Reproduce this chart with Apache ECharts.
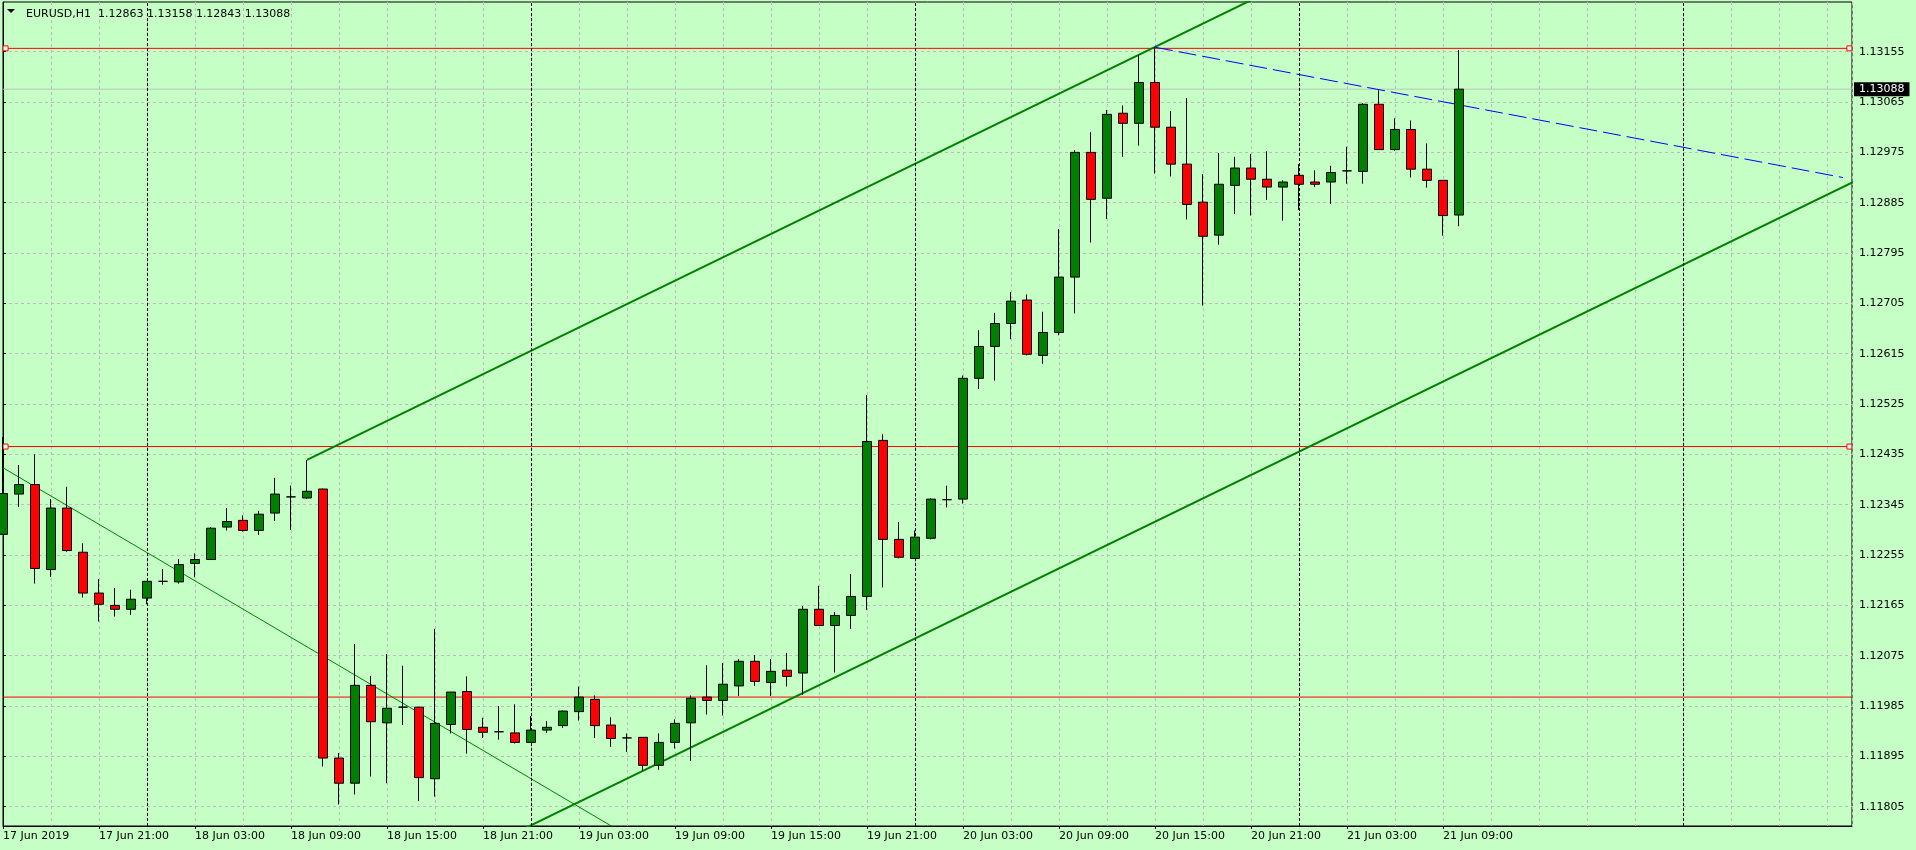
<!DOCTYPE html>
<html>
<head>
<meta charset="utf-8">
<title>EURUSD,H1</title>
<script src="https://cdn.jsdelivr.net/npm/echarts@6/dist/echarts.min.js"></script>
<style>
  html, body { margin: 0; padding: 0; background: #c5ffc5; }
  #main { width: 1916px; height: 850px; }
</style>
</head>
<body>
<div id="main"></div>
<script>
// one candle per hour, index 0 = 17 Jun 2019 15:00
const opens = [
  1.12292, 1.12364, 1.12381, 1.12229, 1.12339, 1.12260, 1.12187, 1.12165, 1.12158, 1.12178,
  1.12208, 1.12207, 1.12240, 1.12247, 1.12305, 1.12317, 1.12299, 1.12330, 1.12359, 1.12357,
  1.12373, 1.11892, 1.11847, 1.12022, 1.11955, 1.11983, 1.11983, 1.11855, 1.11952, 1.12011,
  1.11947, 1.11939, 1.11937, 1.11920, 1.11942, 1.11950, 1.11975, 1.11997, 1.11951, 1.11928,
  1.11929, 1.11879, 1.11920, 1.11955, 1.12001, 1.11995, 1.12021, 1.12065, 1.12027, 1.12049,
  1.12044, 1.12158, 1.12129, 1.12147, 1.12181, 1.12460, 1.12283, 1.12249, 1.12285, 1.12354,
  1.12355, 1.12571, 1.12628, 1.12669, 1.12711, 1.12612, 1.12653, 1.12752, 1.12975, 1.12893,
  1.13045, 1.13027, 1.13100, 1.13020, 1.12954, 1.12886, 1.12827, 1.12916, 1.12947, 1.12927,
  1.12913, 1.12934, 1.12922, 1.12922, 1.12942, 1.12941, 1.13061, 1.12980, 1.13016, 1.12945,
  1.12925, 1.12863
]
const highs = [
  1.12466, 1.12416, 1.12435, 1.12355, 1.12377, 1.12276, 1.12212, 1.12196, 1.12193, 1.12208,
  1.12230, 1.12248, 1.12258, 1.12305, 1.12339, 1.12326, 1.12334, 1.12393, 1.12379, 1.12425,
  1.12374, 1.11901, 1.12096, 1.12039, 1.12078, 1.12057, 1.11983, 1.12123, 1.12010, 1.12038,
  1.11964, 1.11985, 1.11988, 1.11967, 1.11958, 1.11977, 1.12020, 1.12004, 1.11965, 1.11936,
  1.11929, 1.11936, 1.11961, 1.12004, 1.12058, 1.12062, 1.12069, 1.12076, 1.12069, 1.12080,
  1.12164, 1.12200, 1.12153, 1.12221, 1.12541, 1.12471, 1.12314, 1.12299, 1.12357, 1.12379,
  1.12576, 1.12657, 1.12688, 1.12725, 1.12721, 1.12690, 1.12838, 1.12979, 1.13011, 1.13051,
  1.13059, 1.13149, 1.13163, 1.13049, 1.13072, 1.12936, 1.12974, 1.12967, 1.12972, 1.12977,
  1.12925, 1.12954, 1.12943, 1.12951, 1.12985, 1.13063, 1.13086, 1.13036, 1.13032, 1.12991,
  1.12925, 1.13158
]
const lows = [
  1.12292, 1.12341, 1.12204, 1.12216, 1.12261, 1.12179, 1.12136, 1.12145, 1.12148, 1.12167,
  1.12202, 1.12204, 1.12215, 1.12246, 1.12299, 1.12297, 1.12291, 1.12316, 1.12300, 1.12355,
  1.11877, 1.11809, 1.11827, 1.11859, 1.11847, 1.11951, 1.11815, 1.11823, 1.11936, 1.11900,
  1.11928, 1.11925, 1.11918, 1.11920, 1.11937, 1.11946, 1.11959, 1.11928, 1.11912, 1.11903,
  1.11869, 1.11871, 1.11909, 1.11887, 1.11970, 1.11968, 1.12003, 1.12021, 1.12003, 1.12020,
  1.12005, 1.12129, 1.12045, 1.12123, 1.12157, 1.12197, 1.12249, 1.12249, 1.12283, 1.12340,
  1.12347, 1.12552, 1.12567, 1.12641, 1.12612, 1.12597, 1.12648, 1.12687, 1.12814, 1.12856,
  1.12967, 1.12987, 1.12937, 1.12932, 1.12855, 1.12701, 1.12810, 1.12865, 1.12862, 1.12890,
  1.12853, 1.12872, 1.12913, 1.12883, 1.12919, 1.12919, 1.12980, 1.12978, 1.12930, 1.12912,
  1.12826, 1.12843
]
const closes = [
  1.12365, 1.12381, 1.12231, 1.12339, 1.12263, 1.12187, 1.12167, 1.12158, 1.12176, 1.12208,
  1.12208, 1.12238, 1.12247, 1.12303, 1.12315, 1.12299, 1.12328, 1.12364, 1.12359, 1.12369,
  1.11892, 1.11847, 1.12022, 1.11957, 1.11981, 1.11983, 1.11857, 1.11954, 1.12010, 1.11943,
  1.11938, 1.11939, 1.11920, 1.11942, 1.11947, 1.11976, 1.12001, 1.11950, 1.11927, 1.11928,
  1.11879, 1.11920, 1.11954, 1.11999, 1.11995, 1.12024, 1.12065, 1.12029, 1.12047, 1.12038,
  1.12158, 1.12129, 1.12147, 1.12181, 1.12458, 1.12283, 1.12251, 1.12287, 1.12355, 1.12354,
  1.12571, 1.12628, 1.12669, 1.12709, 1.12614, 1.12653, 1.12752, 1.12975, 1.12891, 1.13043,
  1.13027, 1.13100, 1.13020, 1.12954, 1.12882, 1.12825, 1.12918, 1.12947, 1.12927, 1.12913,
  1.12922, 1.12918, 1.12918, 1.12939, 1.12942, 1.13061, 1.12980, 1.13016, 1.12945, 1.12925,
  1.12862, 1.13088
]

// time labels, one every 6 bars
const timeLabels = [
  '17 Jun 2019', '17 Jun 21:00', '18 Jun 03:00', '18 Jun 09:00', '18 Jun 15:00', '18 Jun 21:00',
  '19 Jun 03:00', '19 Jun 09:00', '19 Jun 15:00', '19 Jun 21:00', '20 Jun 03:00', '20 Jun 09:00',
  '20 Jun 15:00', '20 Jun 21:00', '21 Jun 03:00', '21 Jun 09:00'
]
const priceTicks = [
  1.11805, 1.11895, 1.11985, 1.12075, 1.12165, 1.12255, 1.12345, 1.12435,
  1.12525, 1.12615, 1.12705, 1.12795, 1.12885, 1.12975, 1.13065, 1.13155
]
const daySeparators = [9, 33, 57, 81, 105] // midnight bars
const redLevels = [1.13161, 1.12449, 1.12001]
const selectedLevels = [1.13161, 1.12449]
const bidPrice = 1.13088

// trend lines [bar, price]
const upperChannel = [[19, 1.12425], [80, 1.13275]]
const lowerChannel = [[30, 1.11730], [116, 1.12927]]
const downTrend = [[0, 1.12411], [39, 1.11754]]
const blueTrend = [[72, 1.13163], [115, 1.12930]]

const X_MAX = 115.5625
const Y_MIN = 1.117705
const Y_MAX = 1.132439
const FONT = 'DejaVu Sans'
const GRID_COLOR = '#bcbcbc'

var myChart = echarts.init(document.getElementById('main'))

var candles = opens.map(function(o, i) {
  return [i, o, closes[i], lows[i], highs[i]]
})
var last = opens.length - 1
var header = 'EURUSD,H1  ' + [opens[last], highs[last], lows[last], closes[last]]
  .map(function(v) { return v.toFixed(5) }).join(' ')

function trendSeries(data, color, width, type) {
  return {
    type: 'line',
    data: data,
    symbol: 'none',
    silent: true,
    clip: true,
    z: 3,
    lineStyle: { color: color, width: width, type: type || 'solid' }
  }
}

// horizontal level across the whole plot
function levelSeries(v, color) {
  return {
    type: 'line',
    data: [[0, v], [X_MAX, v]],
    symbol: 'none',
    silent: true,
    z: 2,
    lineStyle: { color: color, width: 1, type: 'solid' }
  }
}

var levels = redLevels.map(function(v) { return levelSeries(v, '#ff0000') })

var bidSeries = levelSeries(bidPrice, '#c0c0c0')
bidSeries.endLabel = {
  show: true,
  distance: 2,
  formatter: bidPrice.toFixed(5),
  color: '#fff',
  backgroundColor: '#000',
  padding: [2, 5, 1, 5],
  fontSize: 11,
  fontFamily: FONT
}

var option = {
  animation: false,
  backgroundColor: '#c5ffc5',
  textStyle: { fontFamily: FONT },
  title: {
    text: header,
    left: 21,
    top: 4,
    textStyle: { fontFamily: FONT, fontSize: 11, fontWeight: 'normal', color: '#000' }
  },
  graphic: [{
    type: 'polygon',
    shape: { points: [[7, 9], [15, 9], [11, 13]] },
    style: { fill: '#000' }
  }],
  grid: {
    left: 3,
    right: 64,
    top: 2,
    bottom: 24,
    show: true,
    backgroundColor: '#c5ffc5',
    borderColor: '#000',
    borderWidth: 1,
    outerBoundsMode: 'none'
  },
  xAxis: [
    {
      type: 'value',
      min: 0,
      max: X_MAX,
      axisLine: { show: true, onZero: false, lineStyle: { color: '#000', width: 1 } },
      axisTick: {
        show: true,
        length: 3,
        lineStyle: { color: '#000' },
        customValues: timeLabels.map(function(t, i) { return i * 6 })
      },
      axisLabel: {
        customValues: timeLabels.map(function(t, i) { return i * 6 }),
        formatter: function(v) { return timeLabels[Math.round(v / 6)] || '' },
        align: 'left',
        margin: 5,
        color: '#000',
        fontSize: 11,
        fontFamily: FONT
      },
      splitLine: { show: false }
    },
    {
      type: 'value',
      min: 0,
      max: X_MAX,
      interval: 3,
      axisLine: { show: false },
      axisTick: { show: false },
      axisLabel: { show: false },
      splitLine: { show: true, lineStyle: { color: GRID_COLOR, type: [3, 3], width: 1 } }
    }
  ],
  yAxis: {
    type: 'value',
    position: 'right',
    min: Y_MIN,
    max: Y_MAX,
    axisLine: { show: true, lineStyle: { color: '#000', width: 1 } },
    axisTick: {
      show: true,
      length: 3,
      lineStyle: { color: '#000' },
      customValues: priceTicks
    },
    axisLabel: {
      customValues: priceTicks,
      formatter: function(v) { return v.toFixed(5) },
      margin: 7,
      color: '#000',
      fontSize: 11,
      fontFamily: FONT
    },
    splitLine: { show: true, lineStyle: { color: GRID_COLOR, type: [3, 3], width: 1 } }
  },
  series: [
    {
      // day separators
      type: 'line',
      data: [],
      silent: true,
      z: 1,
      markLine: {
        silent: true,
        symbol: 'none',
        label: { show: false },
        lineStyle: { color: '#000', type: [3, 2], width: 1 },
        data: daySeparators.map(function(v) { return { xAxis: v } })
      },
      // handles of the selected levels
      markPoint: {
        silent: true,
        symbol: 'rect',
        symbolSize: 5,
        label: { show: false },
        itemStyle: { color: '#ffffff', borderColor: '#ff0000', borderWidth: 1 },
        data: selectedLevels.reduce(function(acc, v) {
          return acc.concat([{ coord: [0.16, v] }, { coord: [115.4, v] }])
        }, [])
      }
    }
  ].concat(levels, [
    bidSeries,
    trendSeries(upperChannel, '#008000', 2),
    trendSeries(lowerChannel, '#008000', 2),
    trendSeries(downTrend, '#008000', 1),
    trendSeries(blueTrend, '#0000ff', 1, [18, 6]),
    {
      type: 'candlestick',
      data: candles,
      encode: { x: 0, y: [1, 2, 3, 4] },
      barWidth: 10,
      z: 10,
      silent: true,
      itemStyle: {
        color: '#008000',
        color0: '#ff0000',
        borderColor: '#000',
        borderColor0: '#000',
        borderColorDoji: '#000',
        borderWidth: 1
      }
    }
  ])
}

myChart.setOption(option)
</script>
</body>
</html>
